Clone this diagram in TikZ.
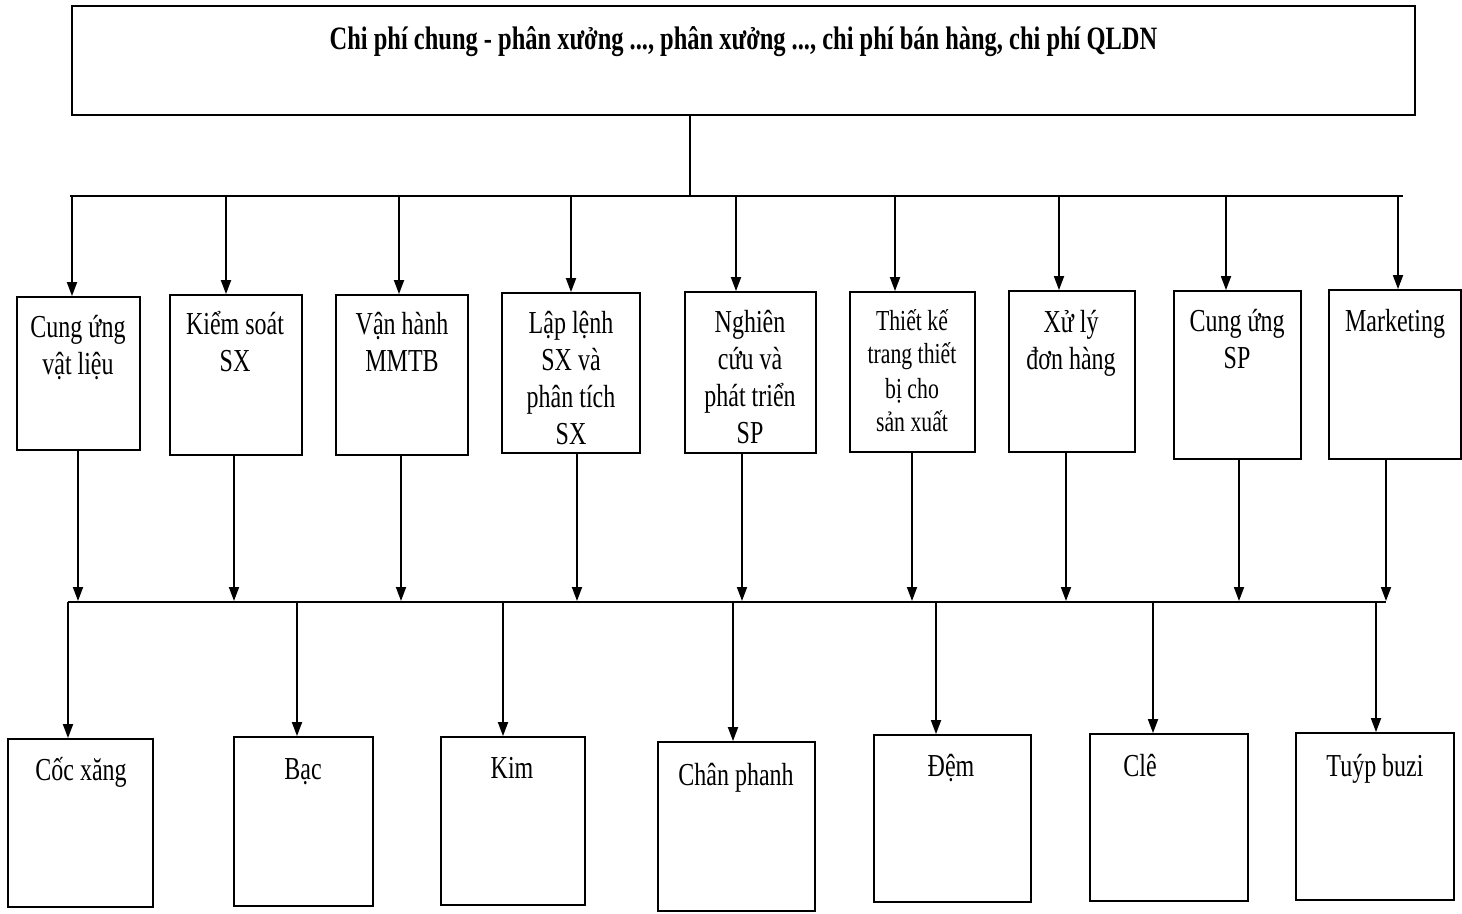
\documentclass[tikz,border=0pt]{standalone}
\usepackage{fontspec}
\setmainfont{Liberation Serif}
\newfontfamily\cond[FakeStretch=0.75]{Liberation Serif}
\usetikzlibrary{arrows.meta}
\tikzset{
  box/.style={draw, line width=0.9pt, rectangle, inner sep=0pt},
  lbl/.style={inner sep=0pt, align=center, font=\cond\fontsize{16}{18.5}\selectfont, anchor=base},
  lblsm/.style={inner sep=0pt, align=center, font=\cond\fontsize{14.5}{17}\selectfont, anchor=base},
  ttl/.style={inner sep=0pt, font=\cond\bfseries\fontsize{16.3}{19}\selectfont, anchor=base},
  ln/.style={line width=0.9pt},
  arr/.style={line width=0.9pt, -{Triangle[length=7pt,width=5pt]}}
}
\begin{document}
\begin{tikzpicture}[x=0.5pt,y=-0.5pt]
\useasboundingbox (0,0) rectangle (1462,914);
% top
\node[box, minimum width=671.5pt, minimum height=54.5pt] (top) at (743.5,60.5) {};
\node[ttl] (ttop) at (743.5,50) {Chi phí chung - phân xưởng ..., phân xưởng ..., chi phí bán hàng, chi phí QLDN};
% middle boxes
\node[box, minimum width=61.5pt, minimum height=76.5pt] (m1) at (78.5,373.5) {};
\node[box, minimum width=66pt, minimum height=80pt] (m2) at (236,375) {};
\node[box, minimum width=66pt, minimum height=80pt] (m3) at (402,375) {};
\node[box, minimum width=69pt, minimum height=80pt] (m4) at (571,373) {};
\node[box, minimum width=65.5pt, minimum height=80.5pt] (m5) at (750.5,372.5) {};
\node[box, minimum width=62.5pt, minimum height=80pt] (m6) at (912.5,372) {};
\node[box, minimum width=63pt, minimum height=80.5pt] (m7) at (1072,371.5) {};
\node[box, minimum width=63.5pt, minimum height=84pt] (m8) at (1237.5,375) {};
\node[box, minimum width=66pt, minimum height=84.5pt] (m9) at (1395,374.5) {};
% base anchor = baseline of last line
\node[lbl] (tm1) at (78,375) {Cung ứng\\vật liệu};
\node[lbl] (tm2) at (235,372) {Kiểm soát\\SX};
\node[lbl] (tm3) at (402,372) {Vận hành\\MMTB};
\node[lbl] (tm4) at (571,445) {Lập lệnh\\SX và\\phân tích\\SX};
\node[lbl] (tm5) at (750,444) {Nghiên\\cứu và\\phát triển\\SP};
\node[lblsm] (tm6) at (912,432) {Thiết kế\\trang thiết\\bị cho\\sản xuất};
\node[lbl] (tm7) at (1071,370) {Xử lý\\đơn hàng};
\node[lbl] (tm8) at (1237,369) {Cung ứng\\SP};
\node[lbl] (tm9) at (1395,332) {Marketing};
% bottom boxes
\node[box, minimum width=72.5pt, minimum height=84pt] (b1) at (80.5,823) {};
\node[box, minimum width=69.5pt, minimum height=84.5pt] (b2) at (303.5,821.5) {};
\node[box, minimum width=72pt, minimum height=84pt] (b3) at (513,821) {};
\node[box, minimum width=78.5pt, minimum height=84.5pt] (b4) at (736.5,826.5) {};
\node[box, minimum width=78.5pt, minimum height=83.5pt] (b5) at (952.5,818.5) {};
\node[box, minimum width=79pt, minimum height=83.5pt] (b6) at (1169,817.5) {};
\node[box, minimum width=79pt, minimum height=83.5pt] (b7) at (1375,816.5) {};
\node[lbl] (tb1) at (81,780) {Cốc xăng};
\node[lbl] (tb2) at (303,779) {Bạc};
\node[lbl] (tb3) at (512,778) {Kim};
\node[lbl] (tb4) at (736,785) {Chân phanh};
\node[lbl] (tb5) at (951,776) {Đệm};
\node[lbl] (tb6) at (1140,776) {Clê};
\node[lbl] (tb7) at (1375,776) {Tuýp buzi};
% bus 1
\coordinate (bus1L) at (70,196);
\coordinate (bus1R) at (1403,196);
\coordinate (j0) at (690,196);
\draw[ln] (bus1L) -- (bus1R);
\draw[ln] (top.south -| j0) -- (j0);
\foreach \i/\x in {1/72,2/226,3/399,4/571,5/736,6/895,7/1059,8/1226,9/1398}{
  \coordinate (a\i) at (\x,196);
  \draw[arr] (a\i) -- (a\i |- m\i.north);
}
% bus 2
\coordinate (bus2L) at (68,602);
\coordinate (bus2R) at (1386,602);
\draw[ln] (bus2L) -- (bus2R);
\foreach \i/\x in {1/78,2/234,3/401,4/577,5/742,6/912,7/1066,8/1239,9/1386}{
  \coordinate (c\i) at (\x,601);
  \draw[arr] (c\i |- m\i.south) -- (c\i);
}
\foreach \i/\x in {1/68,2/297,3/503,4/733,5/936,6/1153,7/1376}{
  \coordinate (d\i) at (\x,602);
  \draw[arr] (d\i) -- (d\i |- b\i.north);
}
\end{tikzpicture}
\end{document}
